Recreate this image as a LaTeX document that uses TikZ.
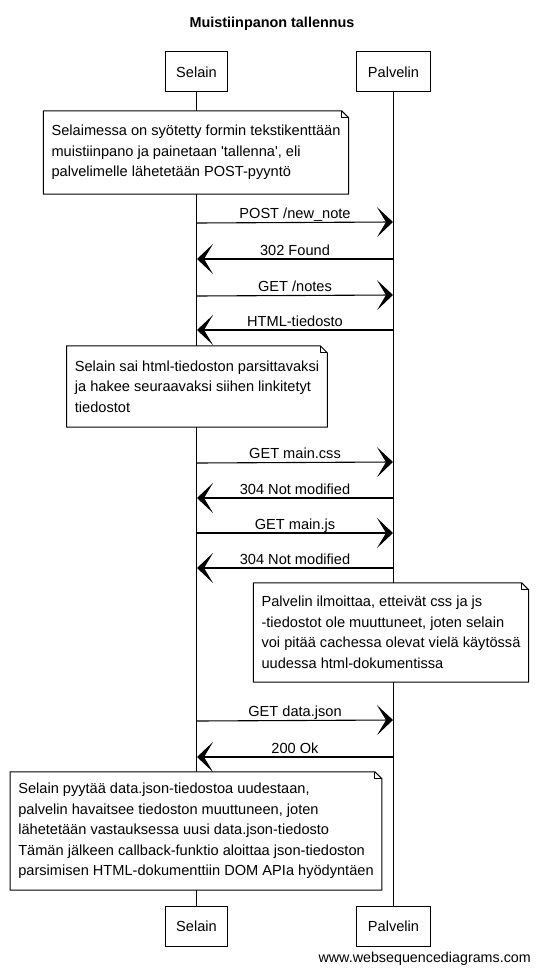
\documentclass[tikz,border=0pt]{standalone}
\usepackage{fontspec}
\setmainfont{Liberation Sans}
\usetikzlibrary{arrows.meta,calc}
\newcommand{\noteoutline}[1]{%
  \draw[noteline] (#1.north west) -- ([xshift=-7pt]#1.north east) -- ([yshift=-7pt]#1.north east) -- (#1.south east) -- (#1.south west) -- cycle;
  \draw[noteline] ([xshift=-7pt]#1.north east) -- ([xshift=-7pt,yshift=-7pt]#1.north east) -- ([yshift=-7pt]#1.north east);}
\begin{document}
\begin{tikzpicture}[x=1pt,y=-1pt,
  txt/.style={font=\fontsize{14.6}{20.5}\selectfont},
  actor/.style={draw, line width=1pt, fill=white, minimum height=40pt, inner xsep=11pt, inner ysep=0pt, txt},
  life/.style={line width=1pt},
  msg/.style={line width=1.1pt, -{Stealth[length=16pt,width=30pt,inset=9pt]}},
  msglabel/.style={midway, anchor=base, yshift=4pt, inner sep=0pt, txt},
  notebox/.style={fill=white, inner xsep=8pt, inner ysep=0pt, align=left, txt},
  noteline/.style={line width=1pt, line join=round}]
\useasboundingbox (0,0) rectangle (540,971);
\fill[white] (0,0) rectangle (540,971);

\node[anchor=base, font=\bfseries\fontsize{14.4}{17}\selectfont] (title) at (272,27.5) {Muistiinpanon tallennus};

\node[actor] (selT) at (196.5,72) {Selain};
\node[actor] (palT) at (393.5,72) {Palvelin};
\node[actor] (selB) at (196.5,926) {Selain};
\node[actor] (palB) at (393.5,926) {Palvelin};
\draw[life] (selT) -- (selB);
\draw[life] (palT) -- (palB);

% note 1
\node[notebox, minimum height=83pt] (n1) at (196,152.5) {Selaimessa on syötetty formin tekstikenttään\\muistiinpano ja painetaan \textquotesingle tallenna\textquotesingle, eli\\palvelimelle lähetetään POST-pyyntö};
\noteoutline{n1}

\coordinate (s1) at (197,223); \coordinate (p1) at (393,222);
\draw[msg] (s1) -- node[msglabel]{POST /new\_note} (p1);
\coordinate (p2) at (393,259); \coordinate (s2) at (197,259);
\draw[msg] (p2) -- node[msglabel]{302 Found} (s2);
\coordinate (s3) at (197,296); \coordinate (p3) at (393,295);
\draw[msg] (s3) -- node[msglabel]{GET /notes} (p3);
\coordinate (p4) at (393,330); \coordinate (s4) at (197,330);
\draw[msg] (p4) -- node[msglabel]{HTML-tiedosto} (s4);

% note 2
\node[notebox, minimum height=81pt] (n2) at (197,386.5) {Selain sai html-tiedoston parsittavaksi\\ja hakee seuraavaksi siihen linkitetyt\\tiedostot};
\noteoutline{n2}

\coordinate (s5) at (197,463); \coordinate (p5) at (393,462);
\draw[msg] (s5) -- node[msglabel]{GET main.css} (p5);
\coordinate (p6) at (393,498); \coordinate (s6) at (197,498);
\draw[msg] (p6) -- node[msglabel]{304 Not modified} (s6);
\coordinate (s7) at (197,533); \coordinate (p7) at (393,533);
\draw[msg] (s7) -- node[msglabel]{GET main.js} (p7);
\coordinate (p8) at (393,568); \coordinate (s8) at (197,568);
\draw[msg] (p8) -- node[msglabel]{304 Not modified} (s8);

% note 3
\node[notebox, minimum height=99pt] (n3) at (391,632.5) {Palvelin ilmoittaa, etteivät css ja js\\-tiedostot ole muuttuneet, joten selain\\voi pitää cachessa olevat vielä käytössä\\uudessa html-dokumentissa};
\noteoutline{n3}

\coordinate (s9) at (197,721); \coordinate (p9) at (393,720);
\draw[msg] (s9) -- node[msglabel]{GET data.json} (p9);
\coordinate (p10) at (393,757); \coordinate (s10) at (197,757);
\draw[msg] (p10) -- node[msglabel]{200 Ok} (s10);

% note 4
\node[notebox, minimum height=118pt] (n4) at (196,831) {Selain pyytää data.json-tiedostoa uudestaan,\\palvelin havaitsee tiedoston muuttuneen, joten\\lähetetään vastauksessa uusi data.json-tiedosto\\Tämän jälkeen callback-funktio aloittaa json-tiedoston\\parsimisen HTML-dokumenttiin DOM APIa hyödyntäen};
\noteoutline{n4}

\node[anchor=base east, inner sep=0pt, font=\fontsize{14.3}{17}\selectfont] (www) at (531,962) {www.websequencediagrams.com};
\end{tikzpicture}
\end{document}
